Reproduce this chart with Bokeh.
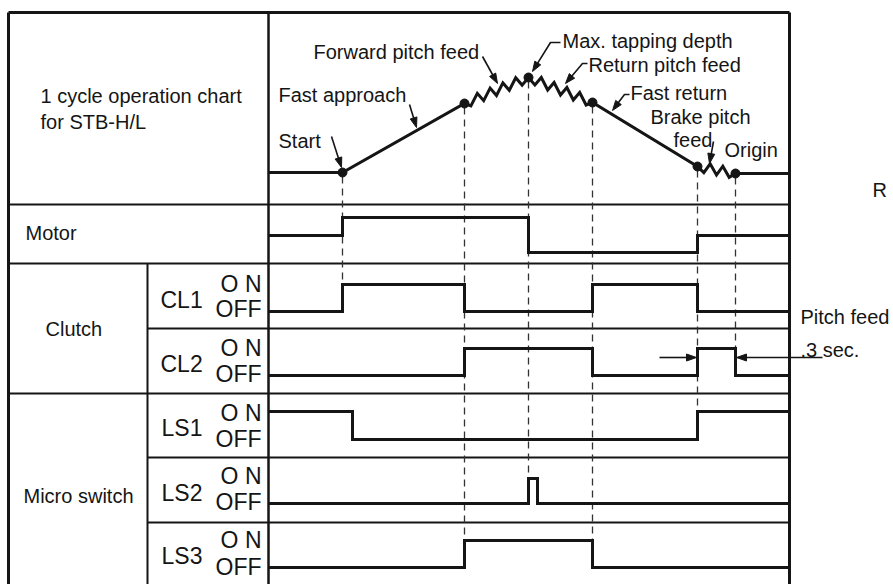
from bokeh.plotting import figure
from bokeh.models import Range1d, ColumnDataSource
from bokeh.core.properties import value
from bokeh.embed import file_html
from bokeh.resources import INLINE

# ------------------------------------------------------------------ data
# instants of the cycle (time axis of the chart, chart units)
event_names = ["Start", "Forward pitch feed", "Max. tapping depth",
               "Fast return", "Brake pitch feed", "Origin"]
event_t = [342, 464, 528, 592, 697, 735]
cycle_t0, cycle_t1 = 268, 789
# tool depth at each event (same order)
tool_depth = [0, 69, 95, 70, 6, -1]
# segments (index of first event) travelled by pitch feed, and tooth counts
pitch_segments = [1, 2, 4]
pitch_teeth = [5, 5, 3]

# switching signals: change times and states
motor_t = [268, 342, 528, 697]
motor_s = [0, 1, -1, 0]
cl1_t = [268, 342, 464, 592, 697]
cl1_s = [0, 1, 0, 1, 0]
cl2_t = [268, 464, 592, 697, 735]
cl2_s = [0, 1, 0, 1, 0]
ls1_t = [268, 352, 697]
ls1_s = [1, 0, 1]
ls2_t = [268, 528, 537]
ls2_s = [0, 1, 0]
ls3_t = [268, 464, 592]
ls3_s = [0, 1, 0]

signals = [("motor", motor_t, motor_s), ("cl1", cl1_t, cl1_s), ("cl2", cl2_t, cl2_s),
           ("ls1", ls1_t, ls1_s), ("ls2", ls2_t, ls2_s), ("ls3", ls3_t, ls3_s)]

# ------------------------------------------------------------------ layout
row_levels = {
    "motor": {1: 217, 0: 235, -1: 252},
    "cl1": {1: 284, 0: 311},
    "cl2": {1: 348, 0: 375},
    "ls1": {1: 411, 0: 439},
    "ls2": {1: 478, 0: 503},
    "ls3": {1: 540, 0: 567},
}
path_base = 172
INK = "#151515"
FONT = value("Liberation Sans")
W, H = 893, 584

p = figure(width=W, height=H, output_backend="svg", toolbar_location=None,
           x_axis_type=None, y_axis_type=None, min_border=0,
           x_range=Range1d(0, W), y_range=Range1d(H, 0))
p.outline_line_color = None
p.background_fill_color = "white"
p.border_fill_color = "white"

# ---- table frame
BOT = 600
p.segment(x0=[8, 8, 789, 268, 147], y0=[12, 12, 12, 12, 263],
          x1=[789, 8, 789, 268, 147], y1=[12, BOT, BOT, BOT, BOT],
          line_color=INK, line_width=[3, 3, 3, 2.5, 2])
p.segment(x0=[8, 8, 147, 8, 147, 147], y0=[204, 263, 328, 393, 457, 522],
          x1=[789] * 6, y1=[204, 263, 328, 393, 457, 522],
          line_color=INK, line_width=2)


def path_y(d):
    return path_base - d


# ---- dashed event lines (from tool path down to last signal switching then)
dx0, dy0, dy1 = [], [], []
for t, d in zip(event_t, tool_depth):
    end = None
    for name, ts, ss in signals:
        for i in range(1, len(ts)):
            if ts[i] == t:
                lv = row_levels[name]
                end = min(lv[ss[i]], lv[ss[i - 1]])
    if end is not None:
        dx0.append(t)
        dy0.append(path_y(d) + 4)
        dy1.append(end)
p.segment(x0=dx0, y0=dy0, x1=dx0, y1=dy1, line_color="#333333",
          line_width=1.3, line_dash="7 5")

# ---- signal step lines
for name, ts, ss in signals:
    lv = row_levels[name]
    xs, ys = [ts[0]], [lv[ss[0]]]
    for i in range(1, len(ts)):
        xs += [ts[i], ts[i]]
        ys += [lv[ss[i - 1]], lv[ss[i]]]
    xs.append(cycle_t1)
    ys.append(lv[ss[-1]])
    p.line(xs, ys, line_color=INK, line_width=3, line_join="miter")

# ---- tool path
px = [cycle_t0, event_t[0]]
py = [path_y(tool_depth[0]), path_y(tool_depth[0])]
for i in range(len(event_t) - 1):
    xa, xb = event_t[i], event_t[i + 1]
    ya, yb = path_y(tool_depth[i]), path_y(tool_depth[i + 1])
    if i in pitch_segments:
        n = pitch_teeth[pitch_segments.index(i)]
        for k in range(1, 2 * n):
            f = k / (2 * n)
            off = 5 if k % 2 else -5
            px.append(xa + f * (xb - xa))
            py.append(ya + f * (yb - ya) + off)
    px.append(xb)
    py.append(yb)
px.append(cycle_t1)
py.append(path_y(tool_depth[-1]))
p.line(px, py, line_color=INK, line_width=3, line_join="miter")
p.scatter(event_t, [path_y(d) for d in tool_depth], size=9, color=INK)


# ---- arrows
def arrow(pts, head=10, half=3.5):
    xs = [q[0] for q in pts]
    ys = [q[1] for q in pts]
    (x0, y0), (x1, y1) = pts[-2], pts[-1]
    dx, dy = x1 - x0, y1 - y0
    L = (dx * dx + dy * dy) ** 0.5
    ux, uy = dx / L, dy / L
    bx, by = x1 - ux * head, y1 - uy * head
    xs[-1] = bx + ux * 2
    ys[-1] = by + uy * 2
    p.line(xs, ys, line_color=INK, line_width=1.6)
    p.patch([x1, bx - uy * half, bx + uy * half], [y1, by + ux * half, by - ux * half],
            color=INK)


arrow([(331, 136), (341, 167)])
arrow([(409, 104), (416, 127)])
arrow([(482, 56), (497, 83)])
arrow([(560, 42), (550, 42), (532, 71)])
arrow([(587, 63), (582, 63), (565, 83)])
arrow([(629, 94), (624, 94), (612, 110)])
arrow([(713, 141), (709, 163)])
arrow([(659, 357), (696, 357)])
arrow([(822, 357), (736, 357)])

# ---- texts (baselines; rendered with a small font-relative correction)
def put(xs, ys, texts, size, align="left"):
    src = ColumnDataSource(dict(x=xs, y=[y - 0.4 * size for y in ys], text=texts))
    p.text(x="x", y="y", text="text", source=src, text_font=FONT,
           text_font_size=f"{size}px", text_color=INK, text_baseline="alphabetic",
           text_align=align)


put([40, 40, 278, 278, 313, 562, 588, 630, 650, 673, 724, 872, 25, 45, 23, 800, 800],
    [103, 129, 148, 102, 59, 48, 72, 100, 124, 147, 157, 197, 240, 336, 503, 324, 357],
    ["1 cycle operation chart", "for STB-H/L", "Start", "Fast approach",
     "Forward pitch feed", "Max. tapping depth", "Return pitch feed", "Fast return",
     "Brake pitch", "feed", "Origin", "R", "Motor", "Clutch", "Micro switch",
     "Pitch feed", ".3 sec."], 20)
put([160, 160, 161, 161, 161], [309, 373, 437, 502, 565],
    ["CL1", "CL2", "LS1", "LS2", "LS3"], 23)
put([261] * 10, [293, 318, 357, 383, 422, 448, 485, 511, 549, 576],
    ["O N", "OFF"] * 5, 23, align="right")

open("out.html", "w").write(file_html(p, INLINE))
